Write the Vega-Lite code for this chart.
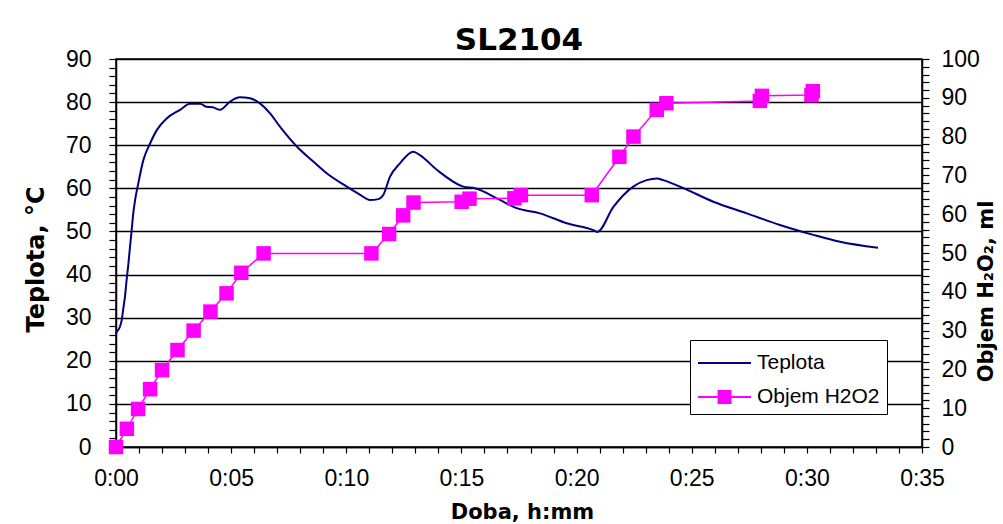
{
  "$schema": "https://vega.github.io/schema/vega-lite/v6.json",
  "width": 806,
  "height": 388,
  "autosize": "none",
  "padding": {"left": 116, "top": 59, "right": 81, "bottom": 77},
  "background": "white",
  "title": {"text": "SL2104", "font": "DejaVu Sans", "fontSize": 31, "fontWeight": "bold", "color": "black", "anchor": "middle", "baseline": "alphabetic", "offset": 9, "dy": 42},
  "datasets": {
    "teplota": [
      {"t": 0, "T": 26.4}, {"t": 0.03, "T": 26.7}, {"t": 0.17, "T": 27.9}, {"t": 0.25, "T": 29.5},
      {"t": 0.32, "T": 32.2}, {"t": 0.39, "T": 34.9}, {"t": 0.46, "T": 38.7}, {"t": 0.54, "T": 42.6},
      {"t": 0.61, "T": 46.5}, {"t": 0.68, "T": 50.3}, {"t": 0.75, "T": 54.2}, {"t": 0.83, "T": 57.3},
      {"t": 0.97, "T": 61.2}, {"t": 1.19, "T": 66.6}, {"t": 1.48, "T": 70.4}, {"t": 1.77, "T": 73.5},
      {"t": 2.2, "T": 76.2}, {"t": 2.78, "T": 78.2}, {"t": 3.21, "T": 79.6}, {"t": 3.65, "T": 79.6},
      {"t": 3.94, "T": 78.9}, {"t": 4.2, "T": 78.8}, {"t": 4.52, "T": 78.2}, {"t": 4.95, "T": 80.1},
      {"t": 5.38, "T": 81.1}, {"t": 5.82, "T": 80.9}, {"t": 6.25, "T": 79.7}, {"t": 6.69, "T": 77.4},
      {"t": 7.12, "T": 74.3}, {"t": 7.85, "T": 69.7}, {"t": 8.57, "T": 66.2}, {"t": 9.15, "T": 63.5},
      {"t": 10.02, "T": 60.4}, {"t": 10.6, "T": 58.5}, {"t": 11.03, "T": 57.3}, {"t": 11.39, "T": 57.5},
      {"t": 11.61, "T": 58.5}, {"t": 11.9, "T": 62.7}, {"t": 12.33, "T": 65.8}, {"t": 12.91, "T": 68.5},
      {"t": 13.2, "T": 67.7}, {"t": 13.93, "T": 64.3}, {"t": 15.08, "T": 60.4}, {"t": 15.59, "T": 60.0},
      {"t": 16.67, "T": 57.3}, {"t": 17.4, "T": 55.4}, {"t": 18.41, "T": 54.2}, {"t": 19.57, "T": 51.9},
      {"t": 20.73, "T": 50.3}, {"t": 20.9, "T": 49.9}, {"t": 21.6, "T": 55.7}, {"t": 22.46, "T": 60.4},
      {"t": 23.04, "T": 61.9}, {"t": 23.5, "T": 62.3}, {"t": 23.76, "T": 61.9}, {"t": 24.49, "T": 60.4},
      {"t": 25.94, "T": 56.9}, {"t": 27.39, "T": 54.2}, {"t": 28.83, "T": 51.5}, {"t": 30.28, "T": 49.2},
      {"t": 31.44, "T": 47.6}, {"t": 33.09, "T": 46.2}
    ],
    "h2o2": [
      {"t": 0, "V": 0}, {"t": 0.47, "V": 4.7}, {"t": 0.96, "V": 9.8}, {"t": 1.48, "V": 14.9},
      {"t": 2.0, "V": 19.8}, {"t": 2.67, "V": 25}, {"t": 3.37, "V": 30}, {"t": 4.1, "V": 34.9},
      {"t": 4.8, "V": 39.6}, {"t": 5.44, "V": 44.9}, {"t": 6.41, "V": 49.9}, {"t": 11.09, "V": 49.9},
      {"t": 11.86, "V": 54.9}, {"t": 12.47, "V": 59.7}, {"t": 12.92, "V": 63}, {"t": 15.01, "V": 63.2},
      {"t": 15.35, "V": 64}, {"t": 17.3, "V": 64.1}, {"t": 17.58, "V": 64.9}, {"t": 20.66, "V": 64.9},
      {"t": 21.86, "V": 74.8}, {"t": 22.47, "V": 80}, {"t": 23.48, "V": 86.9}, {"t": 23.9, "V": 88.6},
      {"t": 27.96, "V": 89.2}, {"t": 28.05, "V": 90.5}, {"t": 30.2, "V": 90.7}, {"t": 30.26, "V": 91.7}
    ]
  },
  "encoding": {
    "x": {
      "field": "t", "type": "quantitative",
      "scale": {"domain": [0, 35], "nice": false, "zero": false},
      "axis": {
        "title": "Doba, h:mm",
        "values": [0,1,2,3,4,5,6,7,8,9,10,11,12,13,14,15,16,17,18,19,20,21,22,23,24,25,26,27,28,29,30,31,32,33,34,35],
        "labelExpr": "datum.value % 5 === 0 ? '0:' + (datum.value < 10 ? '0' : '') + datum.value : ''",
        "labelFont": "Liberation Sans", "labelFontSize": 23, "labelPadding": 14, "tickSize": 6,
        "grid": false, "labelOverlap": false, "labelFlush": false,
        "titleFont": "DejaVu Sans", "titleFontWeight": "bold", "titleFontSize": 21,
        "titleX": 406, "titleY": 65, "titleBaseline": "middle", "titleAlign": "center"
      }
    }
  },
  "layer": [
    {
      "data": {"name": "teplota"},
      "mark": {"type": "line", "strokeWidth": 2, "interpolate": "monotone"},
      "encoding": {
        "y": {
          "field": "T", "type": "quantitative",
          "scale": {"domain": [0, 90], "nice": false},
          "axis": {
            "orient": "left",
            "title": "Teplota, °C",
            "values": [0,2,4,6,8,10,12,14,16,18,20,22,24,26,28,30,32,34,36,38,40,42,44,46,48,50,52,54,56,58,60,62,64,66,68,70,72,74,76,78,80,82,84,86,88,90],
            "labelExpr": "datum.value % 10 === 0 ? datum.label : ''",
            "labelFont": "Liberation Sans", "labelFontSize": 23, "labelPadding": 18, "tickSize": 7,
            "labelOverlap": false, "labelFlush": false,
            "grid": true, "gridColor": "black", "gridWidth": 1.5,
            "gridOpacity": {"condition": {"test": "datum.value % 10 === 0", "value": 1}, "value": 0},
            "titleFont": "DejaVu Sans", "titleFontWeight": "bold", "titleFontSize": 24,
            "titleAngle": 270, "titleX": -80, "titleY": 200, "titleBaseline": "middle", "titleAlign": "center"
          }
        },
        "color": {
          "datum": "Teplota",
          "scale": {"domain": ["Teplota", "Objem H2O2"], "range": ["#000080", "#FF00FF"]},
          "legend": {
            "orient": "none", "legendX": 574, "legendY": 281, "title": null,
            "symbolSize": 900, "symbolStrokeWidth": 2,
            "labelFont": "Liberation Sans", "labelFontSize": 21, "labelColor": "black",
            "labelOffset": 28, "padding": 7, "rowPadding": 8,
            "strokeColor": "black", "fillColor": "white",
            "encode": {
              "symbols": {
                "update": {
                  "shape": {"signal": "datum.value == 'Teplota' ? 'M-1,0H2.533' : 'M-1,0H2.533M0.367,-0.4H1.167V0.4H0.367Z'"},
                  "fill": {"signal": "datum.value == 'Teplota' ? 'transparent' : '#FF00FF'"},
                  "stroke": {"signal": "datum.value == 'Teplota' ? '#000080' : '#FF00FF'"},
                  "strokeWidth": {"value": 2}
                }
              }
            }
          }
        }
      }
    },
    {
      "data": {"name": "h2o2"},
      "encoding": {
        "y": {
          "field": "V", "type": "quantitative",
          "scale": {"domain": [0, 100], "nice": false},
          "axis": {
            "orient": "right",
            "title": "Objem H₂O₂, ml",
            "values": [0,2,4,6,8,10,12,14,16,18,20,22,24,26,28,30,32,34,36,38,40,42,44,46,48,50,52,54,56,58,60,62,64,66,68,70,72,74,76,78,80,82,84,86,88,90,92,94,96,98,100],
            "labelExpr": "datum.value % 10 === 0 ? datum.label : ''",
            "labelFont": "Liberation Sans", "labelFontSize": 23, "labelPadding": 12, "tickSize": 7,
            "labelOverlap": false, "labelFlush": false, "grid": false,
            "titleFont": "DejaVu Sans", "titleFontWeight": "bold", "titleFontSize": 21,
            "titleAngle": 270, "titleX": 64, "titleY": 232, "titleBaseline": "middle", "titleAlign": "center"
          }
        }
      },
      "layer": [
        {
          "mark": {"type": "line", "strokeWidth": 1.5},
          "encoding": {"color": {"datum": "Objem H2O2"}}
        },
        {
          "mark": {"type": "point", "shape": "square", "filled": true, "size": 210, "color": "#FF00FF", "opacity": 1}
        }
      ]
    }
  ],
  "resolve": {"scale": {"y": "independent"}},
  "config": {
    "font": "Liberation Sans",
    "view": {"stroke": "black", "strokeWidth": 1.5},
    "axis": {"domainColor": "black", "domainWidth": 1.5, "tickColor": "black", "tickWidth": 1.2, "labelColor": "black", "titleColor": "black"}
  }
}
